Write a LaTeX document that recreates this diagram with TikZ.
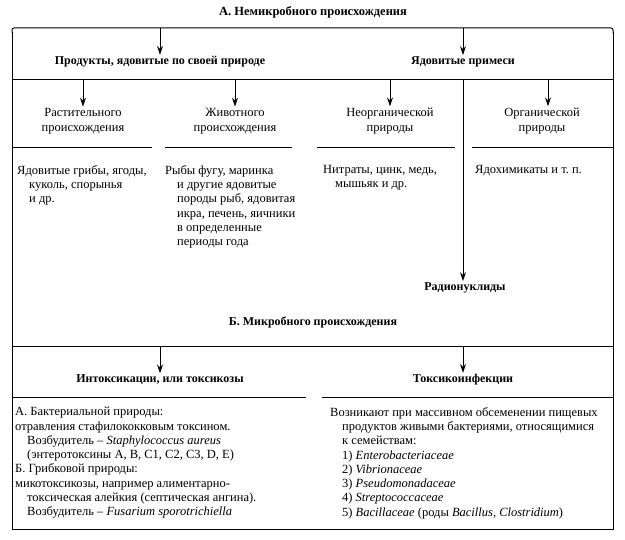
\documentclass[tikz,border=0pt]{standalone}
\usepackage{fontspec}
\setmainfont{Liberation Serif}
\usetikzlibrary{arrows.meta}
\frenchspacing
\tikzset{
  hd/.style={font=\bfseries\fontsize{12}{14}\selectfont, inner sep=1.5pt},
  cat/.style={align=center, font=\fontsize{12.5}{14.5}\selectfont, inner sep=1.5pt},
  txt/.style={align=left, anchor=north west, font=\fontsize{12.5}{14.3}\selectfont, inner sep=0pt},
  arr/.style={-{Stealth[length=9pt,width=6pt]}, line width=1pt},
  frm/.style={line width=1pt}
}
\newcommand{\ind}{\hspace*{12pt}}
\begin{document}
\begin{tikzpicture}[x=1pt,y=-1pt]
\useasboundingbox (0,0) rectangle (625,540);
% frame
\draw[frm, rounded corners=2pt] (12,33) -- (12,28) -- (613,28) -- (613,33);
\draw[frm] (12,32) -- (12,530) -- (613,530) -- (613,32);
\draw[frm] (12,80) -- (613,80);
\draw[frm] (12,148) -- (152,148);
\draw[frm] (165,148) -- (292,148);
\draw[frm] (317,148) -- (455,148);
\draw[frm] (472,148) -- (613,148);
\draw[frm] (12,347) -- (613,347);
\draw[frm] (12,398) -- (306,398);
\draw[frm] (322,398) -- (613,398);
% top section
\node[hd, font=\bfseries\fontsize{12.5}{14}\selectfont] (titleA) at (313,12) {А. Немикробного происхождения};
\coordinate (a1) at (160,28);
\coordinate (a2) at (463,28);
\node[hd] (prod) at (160,62) {Продукты, ядовитые по своей природе};
\node[hd] (prim) at (463,62) {Ядовитые примеси};
\draw[arr] (a1) -- (prod);
\draw[arr] (a2) -- (prim);
\coordinate (b1) at (83,80);
\coordinate (b2) at (235,80);
\coordinate (b3) at (390,80);
\coordinate (b4) at (548,80);
\coordinate (b5) at (463,80);
\node[cat] (rast) at (83,121) {Растительного\\происхождения};
\node[cat] (zhiv) at (235,121) {Животного\\происхождения};
\node[cat] (neorg) at (390,121) {Неорганической\\природы};
\node[cat] (org) at (542,121) {Органической\\природы};
\draw[arr] (b1) -- (rast);
\draw[arr] (b2) -- (zhiv);
\draw[arr] (b3) -- (b3 |- neorg.north);
\draw[arr] (b4) -- (b4 |- org.north);
\node[txt] (t1) at (17,165) {Ядовитые грибы, ягоды,\\\ind куколь, спорынья\\\ind и др.};
\node[txt] (t2) at (165,165) {Рыбы фугу, маринка\\\ind и другие ядовитые\\\ind породы рыб, ядовитая\\\ind икра, печень, яичники\\\ind в определенные\\\ind периоды года};
\node[txt] (t3) at (323,165) {Нитраты, цинк, медь,\\\ind мышьяк и др.};
\node[txt] (t4) at (475,165) {Ядохимикаты и т. п.};
\node[hd] (radio) at (465,288) {Радионуклиды};
\draw[arr] (b5) -- (b5 |- radio.north);
% bottom section
\node[hd] (titleB) at (313,322) {Б. Микробного происхождения};
\coordinate (c1) at (160,347);
\coordinate (c2) at (463,347);
\node[hd] (nitox) at (160,380) {Интоксикации, или токсикозы};
\node[hd] (toxinf) at (463,380) {Токсикоинфекции};
\draw[arr] (c1) -- (nitox);
\draw[arr] (c2) -- (toxinf);
\node[txt] (left) at (15,407) {А. Бактериальной природы:\\отравления стафилококковым токсином.\\\ind Возбудитель -- \textit{Staphylococcus aureus}\\\ind (энтеротоксины A, B, C1, C2, C3, D, E)\\Б. Грибковой природы:\\микотоксикозы, например алиментарно-\\\ind токсическая алейкия (септическая ангина).\\\ind Возбудитель -- \textit{Fusarium sporotrichiella}};
\node[txt] (right) at (330,407) {Возникают при массивном обсеменении пищевых\\\ind продуктов живыми бактериями, относящимися\\\ind к семействам:\\\ind 1) \textit{Enterobacteriaceae}\\\ind 2) \textit{Vibrionaceae}\\\ind 3) \textit{Pseudomonadaceae}\\\ind 4) \textit{Streptococcaceae}\\\ind 5) \textit{Bacillaceae} (роды \textit{Bacillus, Clostridium})};
\end{tikzpicture}
\end{document}
